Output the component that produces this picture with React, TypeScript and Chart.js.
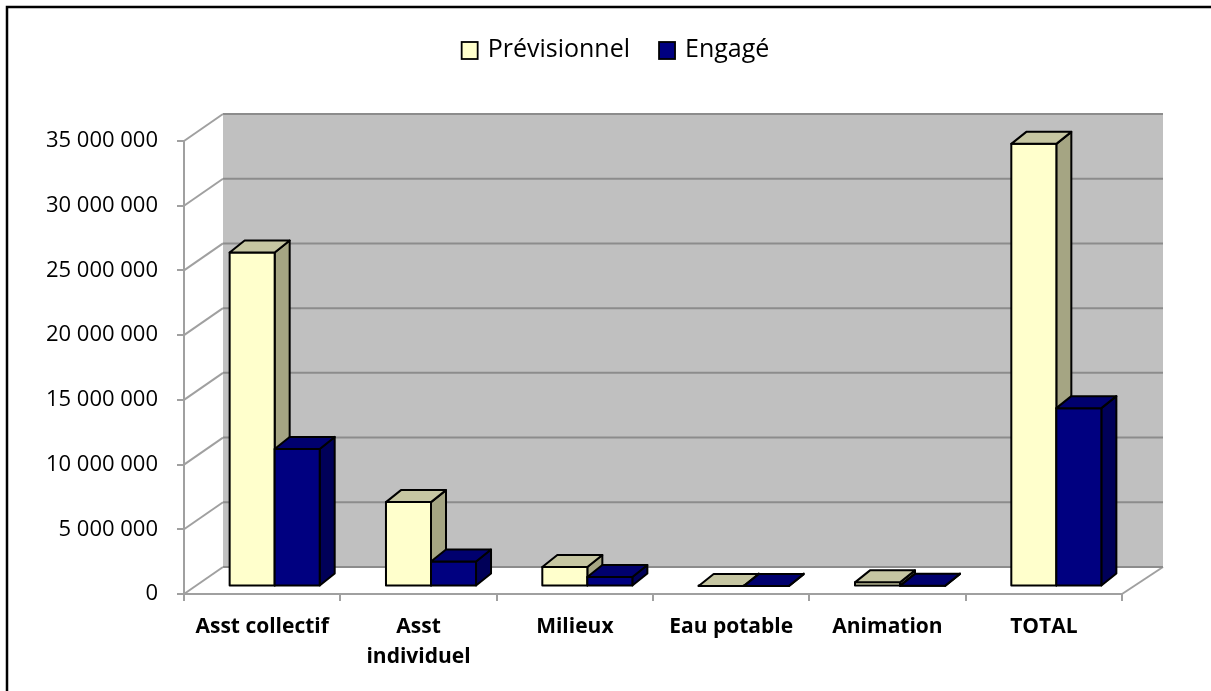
import React, { useEffect, useRef } from 'react';
import { Chart, registerables } from 'chart.js';

Chart.register(...registerables);

// ---- Data ----
const categories: (string | string[])[] = [
  'Asst collectif',
  ['Asst', 'individuel'],
  'Milieux',
  'Eau potable',
  'Animation',
  'TOTAL',
];
const seriesNames = ['Prévisionnel', 'Engagé'];
const previsionnel = [25800000, 6520000, 1500000, 40000, 320000, 34200000];
const engage = [10630000, 1930000, 730000, 30000, 50000, 13780000];
const yMin = 0;
const yMax = 35000000;
const yStep = 5000000;

// ---- Styles ----
const FONT = "'Open Sans', 'Noto Sans', sans-serif";
const WALL = { dx: 39, dy: -27 };
const BAR_SHIFT = { dx: 12.5, dy: -7.5 };
const BAR_DEPTH = { dx: 15, dy: -12 };
const FACES = [
  { front: '#FFFFCC', top: '#C6C6A2', side: '#A5A583' },
  { front: '#000080', top: '#00006E', side: '#000058' },
];
const AXIS_GRAY = '#A0A0A0';
const GRID_GRAY = '#8C8C8C';

function fmt(v: number): string {
  return String(Math.round(v)).replace(/\B(?=(\d{3})+(?!\d))/g, ' ');
}

function poly(ctx: CanvasRenderingContext2D, pts: number[][], fill: string) {
  ctx.beginPath();
  ctx.moveTo(pts[0][0], pts[0][1]);
  for (let i = 1; i < pts.length; i++) ctx.lineTo(pts[i][0], pts[i][1]);
  ctx.closePath();
  ctx.fillStyle = fill;
  ctx.fill();
  ctx.stroke();
}

const threeDPlugin = {
  id: 'threeD',
  beforeDraw(chart: any) {
    const { ctx, chartArea: a, scales } = chart;
    const y = scales.y;
    const L = a.left;
    const R = a.right;
    const yTop = y.getPixelForValue(y.max);
    const yBot = y.getPixelForValue(y.min);
    ctx.save();
    // back wall
    ctx.fillStyle = '#C0C0C0';
    ctx.fillRect(L + WALL.dx, yTop + WALL.dy, R - L + 2, yBot - yTop);
    // floor
    ctx.beginPath();
    ctx.moveTo(L, yBot);
    ctx.lineTo(L + WALL.dx, yBot + WALL.dy);
    ctx.lineTo(R + WALL.dx + 2, yBot + WALL.dy);
    ctx.lineTo(R, yBot);
    ctx.closePath();
    ctx.fillStyle = '#FFFFFF';
    ctx.fill();
    ctx.lineWidth = 2;
    ctx.strokeStyle = AXIS_GRAY;
    ctx.beginPath();
    ctx.moveTo(R, yBot);
    ctx.lineTo(R + WALL.dx + 2, yBot + WALL.dy);
    ctx.stroke();
    // gridlines on back wall + side wall
    y.ticks.forEach((t: any) => {
      const p = y.getPixelForValue(t.value);
      ctx.strokeStyle = GRID_GRAY;
      ctx.beginPath();
      ctx.moveTo(L + WALL.dx, p + WALL.dy);
      ctx.lineTo(R + WALL.dx + 2, p + WALL.dy);
      ctx.stroke();
      ctx.strokeStyle = AXIS_GRAY;
      ctx.beginPath();
      ctx.moveTo(L, p);
      ctx.lineTo(L + WALL.dx, p + WALL.dy);
      ctx.stroke();
    });
    ctx.restore();
  },
  beforeDatasetsDraw(chart: any) {
    const { ctx } = chart;
    const metas = chart.data.datasets.map((_: any, i: number) => chart.getDatasetMeta(i));
    const n = chart.data.labels.length;
    ctx.save();
    ctx.lineWidth = 2;
    ctx.strokeStyle = '#000000';
    ctx.lineJoin = 'round';
    for (let j = 0; j < n; j++) {
      metas.forEach((meta: any, d: number) => {
        const el = meta.data[j];
        if (!el) return;
        const f = FACES[d % FACES.length];
        const left = el.x - el.width / 2 + BAR_SHIFT.dx;
        const right = el.x + el.width / 2 + BAR_SHIFT.dx;
        const top = el.y + BAR_SHIFT.dy;
        const bottom = el.base + BAR_SHIFT.dy;
        const { dx, dy } = BAR_DEPTH;
        // side
        poly(ctx, [[right, top], [right + dx, top + dy], [right + dx, bottom + dy], [right, bottom]], f.side);
        // front
        poly(ctx, [[left, top], [right, top], [right, bottom], [left, bottom]], f.front);
        // top
        poly(ctx, [[left, top], [left + dx, top + dy], [right + dx, top + dy], [right, top]], f.top);
      });
    }
    ctx.restore();
    return false;
  },
  afterDraw(chart: any) {
    const { ctx } = chart;
    ctx.save();
    // legend
    const size = 25;
    ctx.font = `${size}px ${FONT}`;
    ctx.textBaseline = 'middle';
    ctx.textAlign = 'left';
    const box = 16;
    const gap = 10;
    const between = 29;
    const items = chart.data.datasets.map((ds: any) => ({
      label: ds.label as string,
      fill: ds.backgroundColor as string,
      w: ctx.measureText(ds.label).width,
    }));
    const total = items.reduce((s: number, it: any) => s + box + gap + it.w, 0) + between * (items.length - 1);
    let x = chart.width / 2 + 10 - total / 2;
    const cy = 50;
    items.forEach((it: any) => {
      ctx.fillStyle = it.fill;
      ctx.fillRect(x, cy - box / 2, box, box + 1);
      ctx.lineWidth = 1.8;
      ctx.strokeStyle = '#000';
      ctx.strokeRect(x, cy - box / 2, box, box + 1);
      ctx.fillStyle = '#000';
      ctx.fillText(it.label, x + box + gap, cy);
      x += box + gap + it.w + between;
    });
    // frame
    ctx.lineWidth = 2.5;
    ctx.strokeStyle = '#000';
    ctx.strokeRect(7, 7, chart.width + 50, chart.height + 50);
    ctx.restore();
  },
};

export default function App() {
  const ref = useRef<HTMLCanvasElement | null>(null);
  useEffect(() => {
    if (!ref.current) return;
    const chart = new Chart(ref.current, {
      type: 'bar',
      data: {
        labels: categories as any,
        datasets: [
          { label: seriesNames[0], data: previsionnel, backgroundColor: FACES[0].front, borderColor: '#000', borderWidth: 1 },
          { label: seriesNames[1], data: engage, backgroundColor: FACES[1].front, borderColor: '#000', borderWidth: 1 },
        ],
      },
      options: {
        responsive: false,
        animation: false,
        events: [],
        layout: { padding: { top: 141, right: 89, left: 0, bottom: 0 } },
        datasets: { bar: { categoryPercentage: 0.576, barPercentage: 1 } } as any,
        plugins: { legend: { display: false }, tooltip: { enabled: false }, title: { display: false } },
        scales: {
          x: {
            offset: true,
            grid: { offset: true, drawOnChartArea: false, drawTicks: true, tickLength: 7, color: AXIS_GRAY, lineWidth: 2 },
            border: { display: true, color: AXIS_GRAY, width: 2 },
            ticks: {
              font: { family: FONT, size: 21, weight: 'bold', lineHeight: '30px' } as any,
              color: '#000',
              padding: 11,
              maxRotation: 0,
              autoSkip: false,
            },
            afterFit: (s: any) => { s.height = 97; },
          },
          y: {
            min: yMin,
            max: yMax,
            grid: { drawOnChartArea: false, drawTicks: true, tickLength: 7, color: AXIS_GRAY, lineWidth: 2 },
            border: { display: true, color: AXIS_GRAY, width: 2 },
            ticks: {
              stepSize: yStep,
              callback: (v: any) => fmt(Number(v)),
              font: { family: FONT, size: 22 },
              color: '#000',
              padding: 19,
            },
            afterFit: (s: any) => { s.width = 184; },
          },
        },
      },
      plugins: [threeDPlugin],
    });
    return () => chart.destroy();
  }, []);
  return (
    <div style={{ position: 'fixed', left: 0, top: 0, width: 1211, height: 691, overflow: 'hidden', background: '#fff' }}>
      <canvas ref={ref} width={1211} height={691} style={{ display: 'block' }} />
    </div>
  );
}
